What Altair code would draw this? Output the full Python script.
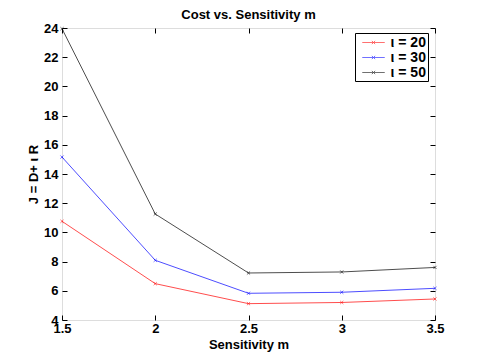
import altair as alt
import pandas as pd

m_values = [1.5, 2, 2.5, 3, 3.5]
series_names = ["ι = 20", "ι = 30", "ι = 50"]
cost_20 = [10.76, 6.49, 5.12, 5.20, 5.44]
cost_30 = [15.16, 8.09, 5.83, 5.90, 6.17]
cost_50 = [23.95, 11.26, 7.22, 7.29, 7.60]
colors = ["#ff0000", "#0000ff", "#000000"]
x_ticks = [1.5, 2, 2.5, 3, 3.5]
y_ticks = [4, 6, 8, 10, 12, 14, 16, 18, 20, 22, 24]

rows = []
for name, vals in zip(series_names, [cost_20, cost_30, cost_50]):
    for m, v in zip(m_values, vals):
        rows.append({"m": m, "J": v, "series": name})
df = pd.DataFrame(rows)

FONT = "Liberation Sans"
xscale = alt.Scale(domain=[1.5, 3.5], nice=False, zero=False)
yscale = alt.Scale(domain=[4, 24], nice=False, zero=False)

x_main = alt.X("m:Q", scale=xscale, title="Sensitivity m",
               axis=alt.Axis(values=x_ticks, format="~g", offset=-5, tickSize=5,
                             domain=False, grid=False, labelPadding=2,
                             labelFont=FONT, labelFontSize=13, labelFontWeight="bold",
                             labelColor="black", tickColor="black", labelOverlap=False,
                             titleFont=FONT, titleFontSize=13, titleFontWeight="bold",
                             titleColor="black", titlePadding=3, labelFlush=False))
y_main = alt.Y("J:Q", scale=yscale, title="J = D+ ι R",
               axis=alt.Axis(values=y_ticks, format="d", offset=-5, tickSize=5,
                             domain=False, grid=False, labelPadding=4,
                             labelFont=FONT, labelFontSize=13, labelFontWeight="bold",
                             labelColor="black", tickColor="black", labelOverlap=False,
                             titleFont=FONT, titleFontSize=13, titleFontWeight="bold",
                             titleColor="black", titlePadding=3, labelFlush=False))

legend_symbol = "M-1.5,0L1.5,0M-0.22,-0.22L0.22,0.22M-0.22,0.22L0.22,-0.22"
color_enc = alt.Color("series:N", scale=alt.Scale(domain=series_names, range=colors),
                      legend=alt.Legend(title=None, orient="none", legendX=293, legendY=5,
                                        symbolType=legend_symbol, symbolSize=225,
                                        symbolStrokeWidth=0.8, symbolOffset=9,
                                        labelFont=FONT, labelFontSize=14,
                                        labelFontWeight="bold", labelColor="black",
                                        labelExpr="datum.label + '\u00a0\u00a0\u00a0\u00a0'",
                                        strokeColor="black", fillColor="white",
                                        padding=1.5, rowPadding=0, labelOffset=9))

base = alt.Chart(df).encode(x=x_main, y=y_main, color=color_enc)
lines = base.mark_line(strokeWidth=0.7)
points = base.mark_point(shape="M-1,-1L1,1M-1,1L1,-1", size=10, strokeWidth=0.8,
                         filled=False)

main = alt.layer(lines, points)

frame = alt.Chart(df).mark_point(opacity=0).encode(
    x=alt.X("m:Q", scale=xscale, title=None,
            axis=alt.Axis(orient="top", values=x_ticks, labels=False, offset=-5, tickSize=5,
                          domain=False, grid=False, tickColor="black")),
    y=alt.Y("J:Q", scale=yscale, title=None,
            axis=alt.Axis(orient="right", values=y_ticks, labels=False, offset=-5, tickSize=5,
                          domain=False, grid=False, tickColor="black")),
)

chart = alt.layer(main, frame).resolve_scale(x="independent", y="independent").properties(
    width=373, height=292,
    title=alt.TitleParams("Cost vs. Sensitivity m", font=FONT, fontSize=13,
                          fontWeight="bold", color="black", offset=0, anchor="middle"),
    padding={"left": 54, "top": 20, "right": 37, "bottom": 40},
    autosize=alt.AutoSizeParams(type="none"),
).configure_view(stroke="black", strokeWidth=1).configure(background="white")

chart.save("out.html", embed_options={"renderer": "svg", "actions": False})
